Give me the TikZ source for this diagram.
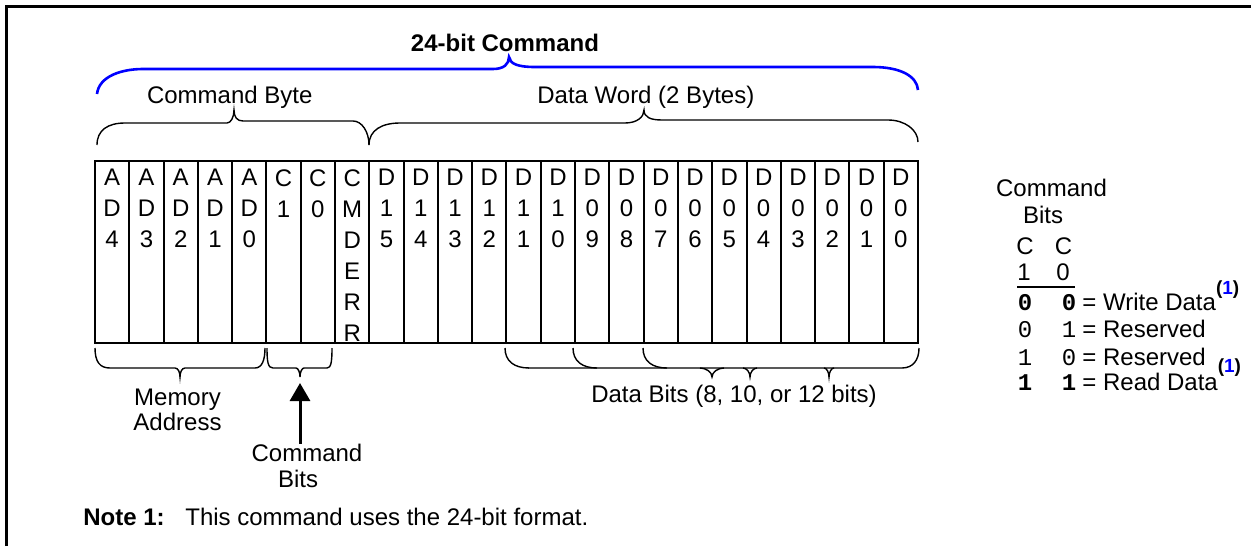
\documentclass[tikz,border=0pt]{standalone}
\usepackage{fontspec}
\setmainfont{Liberation Sans}
\setmonofont{Liberation Mono}
\usetikzlibrary{arrows.meta,positioning}

\newcommand\noteref[1]{\raisebox{#1}{\fontsize{9.5}{9.5}\selectfont\bfseries(\textcolor{blue}{1})}}

\begin{document}
\begin{tikzpicture}[x=0.5pt, y=-0.5pt, font=\fontsize{12}{15.5}\selectfont]
    \tikzstyle{bitcell} = [rectangle, draw=black, line width=1pt, minimum width=17.145pt, minimum height=91pt, inner sep=0pt, outer sep=0pt, anchor=north west]
    \tikzstyle{bitname} = [anchor=north, align=center, inner sep=0pt]
    \tikzstyle{brace} = [draw=black, line width=0.7pt]
    \tikzstyle{bigbrace} = [draw=blue, line width=1.3pt]
    \tikzstyle{txt} = [anchor=base, inner sep=0pt]
    \tikzstyle{bitval} = [anchor=base, inner sep=0pt, font=\fontsize{12}{14}\ttfamily]
    \tikzstyle{boldval} = [anchor=base, inner sep=0pt, font=\fontsize{12}{14}\ttfamily\bfseries]

    \useasboundingbox (0,0) rectangle (1251,546);
    \draw [line width=1.5pt] (6.5,546) -- (6.5,6.5) -- (1251,6.5);

    % the 24 bits of the command
    \foreach \bit [count=\i] in {A\\D\\4, A\\D\\3, A\\D\\2, A\\D\\1, A\\D\\0, C\\1, C\\0, C\\M\\D\\E\\R\\R,
        D\\1\\5, D\\1\\4, D\\1\\3, D\\1\\2, D\\1\\1, D\\1\\0, D\\0\\9, D\\0\\8,
        D\\0\\7, D\\0\\6, D\\0\\5, D\\0\\4, D\\0\\3, D\\0\\2, D\\0\\1, D\\0\\0} {
        \node [bitcell] (cell\i) at ({95+(\i-1)*34.29},161) {};
        \node [bitname] at ([yshift=-4pt]cell\i.north) {\bit};
    }

    % braces above
    \node [txt, font=\fontsize{12}{14}\selectfont\bfseries] (title) at (505,51.5) {24-bit Command};
    \draw [bigbrace] (97,94) .. controls (99,76) and (122,69) .. (143,69) -- (493,69)
        .. controls (504,69) and (509,64) .. (509,57) .. controls (510,64) and (518,67) .. (535,67)
        -- (873,67) .. controls (900,67) and (917,76) .. (918,90);

    \node [txt] (cmdbyte) at (229.7,103.3) {Command Byte};
    \node [txt] (dataword) at (645.8,103.3) {Data Word (2 Bytes)};
    \draw [brace] (97,145) .. controls (97,130) and (108,123) .. (125,123) -- (227,123)
        .. controls (231,123) and (234,117) .. (234,110) .. controls (234,117) and (237,121) .. (243,121)
        -- (353,121) .. controls (362,121) and (369,132) .. (369,145);
    \draw [brace] (369,145) .. controls (369,130) and (382,123) .. (400,123) -- (625,123)
        .. controls (637,123) and (644,117) .. (644,110) .. controls (644,117) and (650,120) .. (662,120)
        -- (888,120) .. controls (905,120) and (918,130) .. (918,142);

    % braces below
    \draw [brace] (95,348) .. controls (95,362) and (100,368) .. (110,368) -- (175,368)
        .. controls (178,368) and (180,372) .. (180,377) .. controls (180,372) and (182,368) .. (185,368)
        -- (255,368) .. controls (262,368) and (265,360) .. (265,348);
    \draw [brace] (267,348) .. controls (267,362) and (268,368) .. (273,368) -- (296,368)
        .. controls (298,368) and (300,372) .. (300,377) .. controls (300,372) and (302,368) .. (304,368)
        -- (327,368) .. controls (331,368) and (332,362) .. (332,348);
    \coordinate (cbtip) at (300,377);

    \foreach \xa in {505,573,643}
        \draw [brace] (\xa,348) .. controls (\xa,361) and (\xa+9,368) .. (\xa+24,368);
    \draw [brace] (528,368) -- (902,368) .. controls (913,368) and (919,360) .. (919,348);
    \foreach \xt/\d in {712/12, 750/7, 829/5}
        \draw [brace] (\xt-\d,368) .. controls (\xt-\d/2,368) and (\xt,372) .. (\xt,377)
            .. controls (\xt,372) and (\xt+\d/2,368) .. (\xt+\d,368);

    \node [txt] (mem) at (177.5,405) {Memory};
    \node [txt] (addr) at (177.5,430.7) {Address};
    \node [txt] (cmdbits) at (307,461.7) {Command};
    \node [txt] (cmdbits2) at (298,487.7) {Bits};
    \draw [line width=1.5pt, -{Triangle[width=10pt,length=9pt]}] (cbtip |- cmdbits.north) -- ([yshift=-3pt]cbtip);
    \node [txt] (databits) at (734,402.7) {Data Bits (8, 10, or 12 bits)};

    % legend
    \node [txt] (cmdhead) at (1051.5,196.7) {Command};
    \node [txt] (bitshead) at (1043,223) {Bits};
    \node [txt] (cone) at (1025,254) {C};
    \node [txt] (czero) at (1063.5,254) {C};
    \node [txt] (one) at (1024,280.7) {1};
    \node [txt] (zero) at (1063,280.7) {0};
    \draw [line width=1pt] (1017,287) -- (1075,287);

    \node [boldval] (wra) at (1025,310) {0};
    \node [boldval] (wrb) at (1069,310) {0};
    \node [txt, anchor=base west] (wrtxt) at (1082,310) {= Write Data\noteref{8pt}};
    \node [bitval] (rsa) at (1025,337.3) {0};
    \node [bitval] (rsb) at (1069,337.3) {1};
    \node [txt, anchor=base west] (rstxt) at (1082,337.3) {= Reserved};
    \node [bitval] (rta) at (1025,365.7) {1};
    \node [bitval] (rtb) at (1069,365.7) {0};
    \node [txt, anchor=base west] (rttxt) at (1082,365.7) {= Reserved};
    \node [boldval] (rda) at (1025,390) {1};
    \node [boldval] (rdb) at (1069,390) {1};
    \node [txt, anchor=base west] (rdtxt) at (1082,390) {= Read Data\noteref{9pt}};

    % note
    \node [txt, anchor=base west, font=\fontsize{12}{14}\selectfont\bfseries] (note) at (83,525.7) {Note 1:};
    \node [txt, anchor=base west] (notetext) at (185,525.7) {This command uses the 24-bit format.};
\end{tikzpicture}
\end{document}
